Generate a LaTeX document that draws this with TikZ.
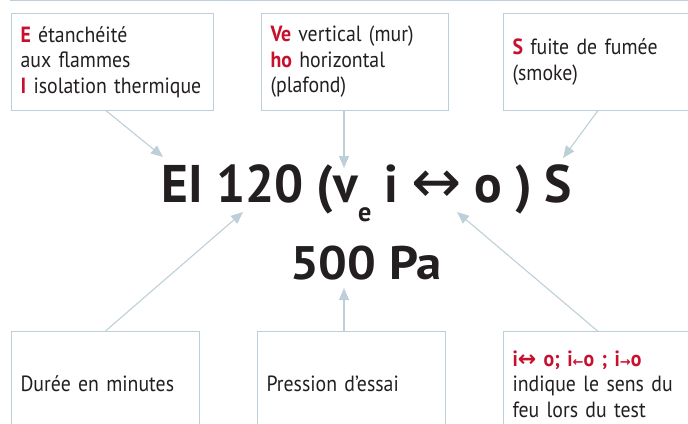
\documentclass[tikz,border=0pt]{standalone}
\usepackage{fontspec}
\setmainfont{PT Sans}[FakeStretch=0.9]
\newfontfamily\titlefont{PT Sans}[FakeStretch=0.97]
\newfontfamily\presfont{PT Sans}[FakeStretch=1.08]
\newfontfamily\arrowfont{DejaVu Sans}
\usetikzlibrary{arrows.meta}
\definecolor{firered}{HTML}{C8102E}
\definecolor{inkgray}{HTML}{231F20}
\definecolor{framegray}{HTML}{BDCFD8}
\newcommand{\rd}[1]{\textcolor{firered}{\textbf{#1}}}
\newcommand{\lrarr}{{\arrowfont ↔}}
\newcommand{\larr}{{\arrowfont\fontsize{13}{13}\selectfont ←}}
\newcommand{\rarr}{{\arrowfont\fontsize{13}{13}\selectfont →}}
\tikzset{
  infobox/.style={draw=framegray, line width=1.1pt, anchor=north west, align=left,
    inner xsep=9pt, minimum height=97pt, text=inkgray,
    font=\fontsize{22}{25.5}\selectfont},
  lowbox/.style={infobox, minimum height=105pt},
  pointer/.style={draw=framegray, line width=1.1pt, -{Triangle[length=12pt,width=10pt]}},
  bigtext/.style={text=inkgray, inner sep=0pt}
}
\begin{document}
\begin{tikzpicture}[x=1pt,y=-1pt]
  \useasboundingbox (0,0) rectangle (688,423);
  \clip (0,0) rectangle (688,423);
  \draw[framegray, line width=1pt] (10,0.6) -- (688,0.6);

  % boxes on top
  \node[infobox, minimum width=202pt, text width=184pt] (etanch) at (11,13)
    {\rd{E} étanchéité\\aux flammes\\\rd{I} isolation thermique};
  \node[infobox, minimum width=187pt, text width=169pt] (vertic) at (261,13)
    {\rd{Ve} vertical (mur)\\\rd{ho} horizontal\\(plafond)};
  \node[infobox, minimum width=188pt, text width=170pt] (fumee) at (503,13)
    {\rd{S} fuite de fumée\\(smoke)};

  % main label
  \node[bigtext, anchor=base, font=\titlefont\bfseries\fontsize{53}{60}\selectfont] (titre) at (367,202)
    {EI 120 (v\raisebox{-19pt}{\fontsize{27}{27}\selectfont e} i {\mdseries\fontsize{60}{60}\selectfont\lrarr} o ) S};
  \node[bigtext, anchor=base, font=\presfont\bfseries\fontsize{47}{50}\selectfont] (press) at (366,279)
    {500 Pa};

  % boxes below
  \node[lowbox, minimum width=188pt, text width=170pt] (duree) at (11,331)
    {Durée en minutes};
  \node[lowbox, minimum width=188pt, text width=170pt] (essai) at (257,331)
    {Pression d’essai};
  \node[lowbox, minimum width=188pt, text width=170pt] (sens) at (503,331)
    {\rd{i\lrarr\ o; i\larr o ; i\rarr o}\\indique le sens du\\feu lors du test};

  % arrow tips
  \coordinate (tipE) at (163,157);
  \coordinate (tipV) at (344,168);
  \coordinate (tipS) at (563,158);
  \coordinate (tipD) at (243,212);
  \coordinate (tipP) at (344,288);
  \coordinate (tipI) at (457,212);

  \draw[pointer] ([xshift=-6pt]etanch.south) -- (tipE);
  \draw[pointer] (tipV |- vertic.south) -- (tipV);
  \draw[pointer] (fumee.south) -- (tipS);
  \draw[pointer] (duree.north) -- (tipD);
  \draw[pointer] (tipP |- essai.north) -- (tipP);
  \draw[pointer] (sens.north) -- (tipI);
\end{tikzpicture}
\end{document}
